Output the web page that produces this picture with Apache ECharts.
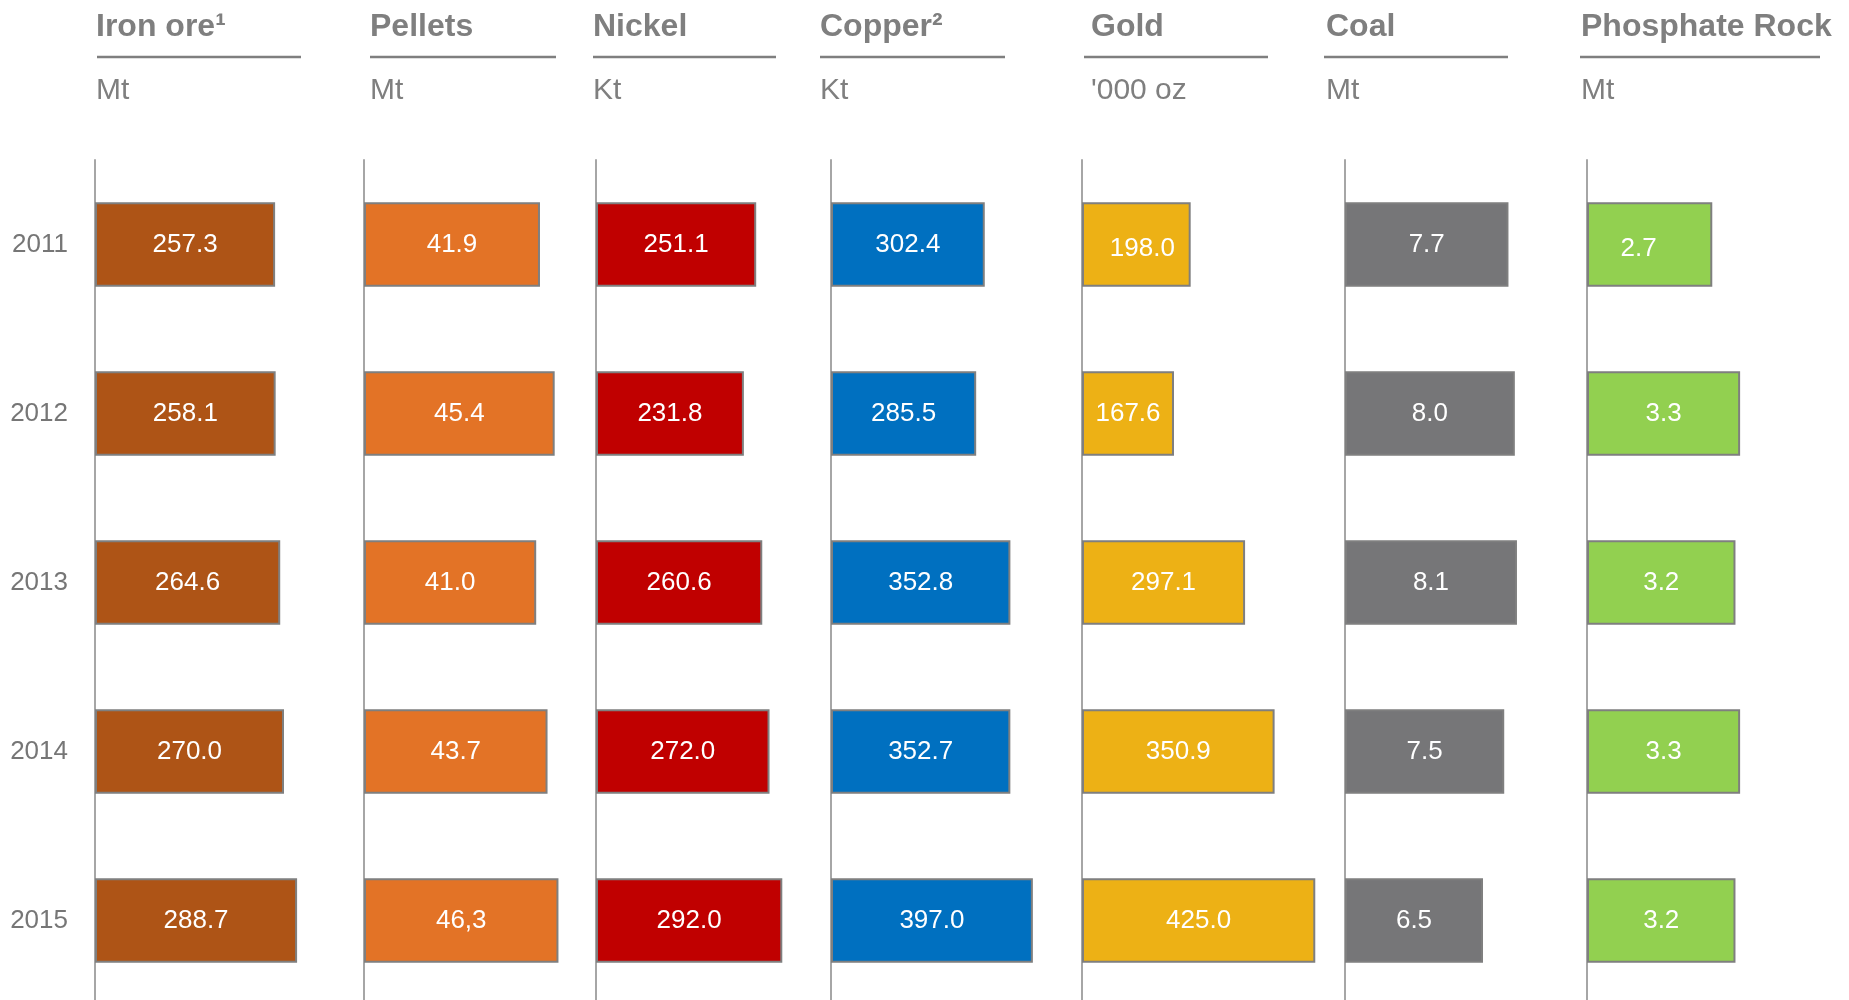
<!DOCTYPE html>
<html>
<head>
<meta charset="utf-8">
<title>Production by commodity, 2011–2015</title>
<script src="https://cdn.jsdelivr.net/npm/echarts@6/dist/echarts.min.js"></script>
<style>
  html, body { margin: 0; padding: 0; background: #ffffff; }
  #chart { width: 1849px; height: 1000px; }
</style>
</head>
<body>
<div id="chart"></div>
<script>
// Production volumes per year
const years = ['2011', '2012', '2013', '2014', '2015'];

const ironOre   = [257.3, 258.1, 264.6, 270.0, 288.7];
const pellets   = [41.9, 45.4, 41.0, 43.7, 46.3];
const nickel    = [251.1, 231.8, 260.6, 272.0, 292.0];
const copper    = [302.4, 285.5, 352.8, 352.7, 397.0];
const gold      = [198.0, 167.6, 297.1, 350.9, 425.0];
const coal      = [7.7, 8.0, 8.1, 7.5, 6.5];
const phosphate = [2.7, 3.3, 3.2, 3.3, 3.2];

// Pellets 2015 is published with a decimal comma
const pelletsLabels = ['41.9', '45.4', '41.0', '43.7', '46,3'];

const names = ['Iron ore\u00B9', 'Pellets', 'Nickel', 'Copper\u00B2', 'Gold', 'Coal', 'Phosphate Rock'];
const units = ['Mt', 'Mt', 'Kt', 'Kt', "'000 oz", 'Mt', 'Mt'];

// Panel layout: axis x position, axis max, pixel width, header rule extents, title x,
// and a few hand-nudged value labels (index -> [dx, dy])
const panels = [
  { data: ironOre,   color: '#AE5416', left: 95,   max: 300, width: 210,   rule: [97, 301],   tx: 96 },
  { data: pellets,   color: '#E37326', left: 364,  max: 50,  width: 210,   rule: [370, 556],  tx: 370, labels: pelletsLabels },
  { data: nickel,    color: '#C00000', left: 596,  max: 300, width: 191.4, rule: [593, 776],  tx: 593 },
  { data: copper,    color: '#0070C0', left: 831,  max: 400, width: 203.4, rule: [820, 1005], tx: 820 },
  { data: gold,      color: '#EDB115', left: 1082, max: 450, width: 247,   rule: [1084, 1268], tx: 1091, nudge: { 0: [6, 4] } },
  { data: coal,      color: '#767678', left: 1345, max: 10,  width: 212.3, rule: [1324, 1508], tx: 1326 },
  { data: phosphate, color: '#92D050', left: 1587, max: 5,   width: 232,   rule: [1580, 1820], tx: 1581, nudge: { 0: [-11, 4] } }
];

const FONT = '"Liberation Sans", Arial, Helvetica, sans-serif';
const GREY = '#7f7f7f';

const grid = [], xAxis = [], yAxis = [], series = [], title = [], graphic = [];

panels.forEach((p, i) => {
  // the plot area runs past the bottom edge, so the axis line is cut by the page
  grid.push({
    left: p.left, top: 160, width: p.width, height: 845,
    containLabel: false, outerBoundsMode: 'none'
  });
  xAxis.push({ gridIndex: i, type: 'value', min: 0, max: p.max, show: false });
  yAxis.push({
    gridIndex: i,
    type: 'category',
    data: years,
    inverse: true,
    axisTick: { show: false },
    axisLine: { show: true, lineStyle: { color: '#a6a6a6', width: 2 } },
    axisLabel: i === 0
      ? { show: true, color: '#767676', fontSize: 26, fontFamily: FONT, margin: 27 }
      : { show: false },
    splitLine: { show: false }
  });
  const items = p.data.map((v, k) => {
    const nudge = p.nudge && p.nudge[k];
    return nudge ? { value: v, label: { offset: nudge } } : v;
  });
  series.push({
    type: 'bar',
    name: names[i],
    xAxisIndex: i,
    yAxisIndex: i,
    data: items,
    barCategoryGap: '50%',
    itemStyle: { color: p.color, borderColor: GREY, borderWidth: 2 },
    label: {
      show: true,
      position: 'inside',
      color: '#ffffff',
      fontSize: 26,
      fontFamily: FONT,
      formatter: (d) => p.labels ? p.labels[d.dataIndex] : p.data[d.dataIndex].toFixed(1)
    },
    emphasis: { disabled: true },
    animation: false
  });
  title.push({
    text: names[i],
    left: p.tx,
    top: 11.5,
    padding: 0,
    textStyle: { color: GREY, fontSize: 32, fontWeight: 'bold', fontFamily: FONT }
  });
  title.push({
    text: units[i],
    left: p.tx,
    top: 75.5,
    padding: 0,
    textStyle: { color: GREY, fontSize: 30, fontWeight: 'normal', fontFamily: FONT }
  });
  graphic.push({
    type: 'line',
    shape: { x1: p.rule[0], y1: 57, x2: p.rule[1], y2: 57 },
    style: { stroke: GREY, lineWidth: 2.5 },
    silent: true
  });
});

const chart = echarts.init(document.getElementById('chart'), null, { renderer: 'canvas' });
chart.setOption({
  backgroundColor: '#ffffff',
  animation: false,
  title,
  grid,
  xAxis,
  yAxis,
  series,
  graphic
});
</script>
</body>
</html>
